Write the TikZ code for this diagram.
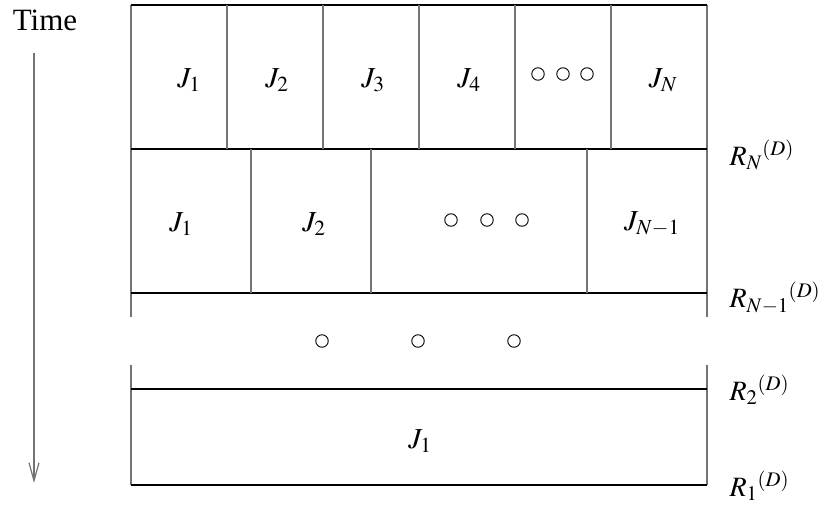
\documentclass[tikz,border=0pt]{standalone}
\usepackage{mathptmx}
\usepackage{fontspec}
\setmainfont{Liberation Serif}
\usetikzlibrary{arrows.meta}

\begin{document}
\begin{tikzpicture}[x=1pt,y=-1pt,line width=1.2pt,
  hline/.style={draw=black},
  vline/.style={draw=black!55},
  job/.style={font=\fontsize{29}{34}\selectfont,inner sep=0pt},
  rlbl/.style={font=\fontsize{28}{32}\selectfont,anchor=west,inner sep=0pt},
  dot/.style={circle,draw,inner sep=0pt,minimum size=12.5pt,line width=0.9pt}]
  \useasboundingbox (0,0) rectangle (836,506);
  % time axis
  \node[font=\fontsize{31}{36}\selectfont,inner sep=0pt] (time) at (45,20) {Time};
  \coordinate (t0) at (34,53); \coordinate (t1) at (34,483);
  \draw[vline,-{Straight Barb[length=18pt,width=10pt]}] (t0) -- (t1);
  % row N
  \draw[vline] (131,317) -- (131,5); \draw[vline] (707,5) -- (707,317);
  \draw[hline] (131,5) -- (707,5); \draw[hline] (131,149) -- (707,149); \draw[hline] (131,293) -- (707,293);
  \foreach \x in {227,323,419,515,611} \draw[vline] (\x,5) -- (\x,149);
  \node[job] (a1) at (189,80) {$J_1$}; \node[job] (a2) at (277,80) {$J_2$};
  \node[job] (a3) at (373,80) {$J_3$}; \node[job] (a4) at (469,80) {$J_4$};
  \foreach \x in {538,563,587} \node[dot] at (\x,74) {};
  \node[job] (aN) at (663,80) {$J_N$};
  % row N-1
  \foreach \x in {251,371,587} \draw[vline] (\x,149) -- (\x,293);
  \node[job] (b1) at (181,224) {$J_1$}; \node[job] (b2) at (314,224) {$J_2$};
  \foreach \x in {451,487,522} \node[dot] at (\x,220) {};
  \node[job] (bN) at (652,224) {$J_{N-1}$};
  % gap
  \foreach \x in {322,418,514} \node[dot] at (\x,341) {};
  % row 1
  \draw[vline] (131,365) -- (131,485); \draw[vline] (707,365) -- (707,485);
  \draw[hline] (131,389) -- (707,389); \draw[hline] (131,485) -- (707,485);
  \node[job] (c1) at (420,441) {$J_1$};
  % release times
  \node[rlbl] (rN) at (729,155) {$R_N{}^{(D)}$};
  \node[rlbl] (rM) at (729,298) {$R_{N-1}{}^{(D)}$};
  \node[rlbl] (r2) at (729,390) {$R_2{}^{(D)}$};
  \node[rlbl] (r1) at (729,486) {$R_1{}^{(D)}$};
\end{tikzpicture}
\end{document}
